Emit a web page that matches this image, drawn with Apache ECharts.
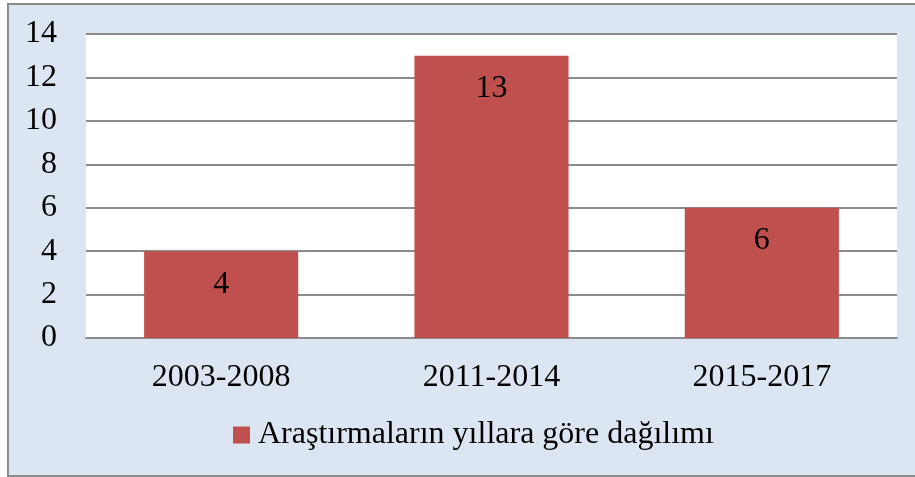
<!DOCTYPE html>
<html>
<head>
<meta charset="utf-8">
<script src="https://cdn.jsdelivr.net/npm/echarts@6/dist/echarts.min.js"></script>
<style>
html,body{margin:0;padding:0;background:#fff;}
#c{width:915px;height:477px;}
</style>
</head>
<body>
<div id="c"></div>
<script>
const categories = ['2003-2008', '2011-2014', '2015-2017'];
const values = [4, 13, 6];
const seriesName = 'Araştırmaların yıllara göre dağılımı';
const yTicks = { min: 0, max: 14, interval: 2 };

const chart = echarts.init(document.getElementById('c'), null, { renderer: 'canvas' });
const font = '"Liberation Serif", "Times New Roman", serif';
chart.setOption({
  backgroundColor: '#ffffff',
  animation: false,
  graphic: [{
    type: 'rect', z: -10,
    shape: { x: 8, y: 4, width: 920, height: 472 },
    style: { fill: '#DCE6F2', stroke: '#8c8c8c', lineWidth: 2 }
  }],
  grid: {
    left: 86, right: 18, top: 34, bottom: 139,
    show: true, backgroundColor: '#ffffff', borderWidth: 0
  },
  legend: {
    bottom: 21, left: 228,
    itemWidth: 17, itemHeight: 17, itemGap: 8,
    icon: 'rect',
    textStyle: { fontFamily: font, fontSize: 32, color: '#000', padding: [0, 0, 0, 3] },
    data: [seriesName]
  },
  xAxis: {
    type: 'category', data: categories,
    axisLine: { show: true, lineStyle: { color: '#8c8c8c', width: 2 } },
    axisTick: { show: false },
    axisLabel: { fontFamily: font, fontSize: 32, color: '#000', margin: 24 }
  },
  yAxis: {
    type: 'value', min: yTicks.min, max: yTicks.max, interval: yTicks.interval,
    axisLine: { show: false }, axisTick: { show: false },
    splitLine: { lineStyle: { color: '#8c8c8c', width: 2 } },
    axisLabel: { fontFamily: font, fontSize: 32, color: '#000', margin: 29 }
  },
  series: [{
    name: seriesName, type: 'bar', data: values,
    barWidth: '57%',
    itemStyle: { color: '#C0504D' },
    label: {
      show: true, position: 'insideTop', distance: 17,
      fontFamily: font, fontSize: 32, color: '#000'
    }
  }]
});
</script>
</body>
</html>
